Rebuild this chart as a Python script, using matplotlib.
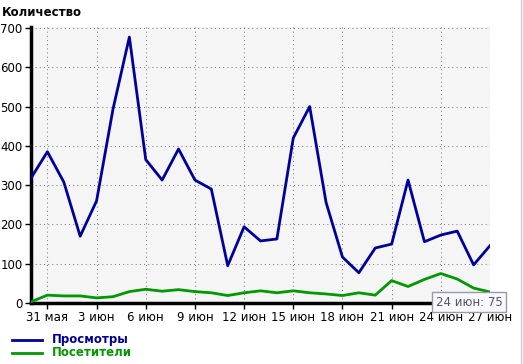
import matplotlib
matplotlib.use("Agg")
import matplotlib.pyplot as plt
import numpy as np

# даты 30 мая - 27 июн
labels = ["30 мая", "31 мая"] + ["%d июн" % d for d in range(1, 28)]
views = [318, 385, 308, 170, 260, 493, 677, 365, 313, 392, 313, 290, 95, 194, 158,
         163, 420, 500, 256, 117, 77, 140, 150, 313, 156, 173, 183, 97, 146]
visitors = [3, 20, 18, 18, 13, 16, 29, 35, 30, 34, 29, 26, 19, 26, 31,
            26, 31, 26, 23, 19, 26, 20, 57, 42, 60, 75, 61, 38, 28]
tick_idx = [1, 4, 7, 10, 13, 16, 19, 22, 25, 28]
yticks = [0, 100, 200, 300, 400, 500, 600, 700]

W, H = 523, 364
fig = plt.figure(figsize=(W / 100, H / 100), dpi=100)
fig.patch.set_facecolor("white")
ax = fig.add_axes([31 / W, (H - 303) / H, (490 - 31) / W, (303 - 27) / H])
ax.set_facecolor("#f5f5f5")

x = np.arange(len(views))
ax.plot(x, views, color="#00009c", lw=2, label="Просмотры", zorder=3)
ax.plot(x, visitors, color="#009900", lw=2, label="Посетители", zorder=3)

ax.set_xlim(0, len(views) - 1)
ax.set_ylim(0, 700 * 276 / 275)
ax.set_xticks(tick_idx)
ax.set_xticklabels([labels[i] for i in tick_idx], fontsize=8.5)
ax.set_yticks(yticks)
ax.set_yticklabels([str(v) for v in yticks], fontsize=8.5)
ax.grid(True, color="#808080", linestyle=(0, (1, 3)), lw=0.75)
ax.set_axisbelow(True)
for s in ["top", "right"]:
    ax.spines[s].set_visible(False)
ax.spines["left"].set_linewidth(2.5)
ax.spines["bottom"].set_linewidth(2.5)
ax.tick_params(axis="both", length=4, width=1, pad=2)

fig.text(2 / W, 1 - 12 / H, "Количество", fontsize=8.5, fontweight="bold", va="center")

# легенда
for yy, col, name in [(340, "#00009c", "Просмотры"), (353, "#009900", "Посетители")]:
    fig.add_artist(plt.Line2D([12 / W, 42 / W], [1 - yy / H] * 2, color=col, lw=2))
    fig.text(52 / W, 1 - yy / H, name, color=col, fontsize=8.5, fontweight="bold", va="center")

# всплывающая подсказка
fig.text(469 / W, 1 - 302 / H, "24 июн: 75", fontsize=8.5, color="#555566",
         ha="center", va="center",
         bbox=dict(boxstyle="square,pad=0.3", fc="#f8f8ff", ec="#9999aa", lw=1))

fig.add_artist(plt.Line2D([521 / W, 521 / W], [0, 1], color="#cccccc", lw=1))

fig.savefig("out.png", dpi=100)
